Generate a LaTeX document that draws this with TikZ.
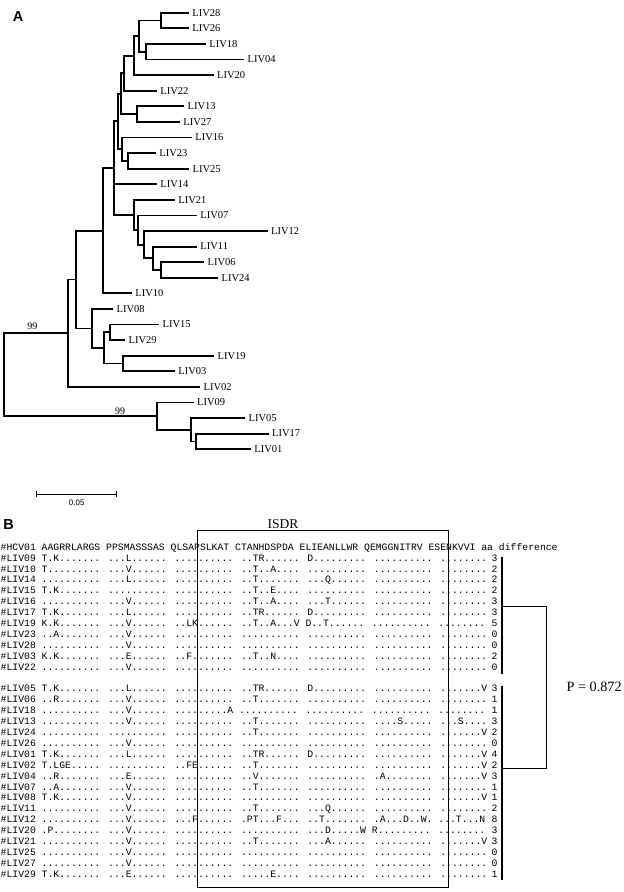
\documentclass[tikz,border=0pt]{standalone}
\usepackage{fontspec}
\setmainfont{Liberation Serif}
\newfontfamily\alnfont{Liberation Mono}
\newfontfamily\lblsans{Liberation Sans}
\tikzset{
  tree/.style={line width=1.8pt, line cap=rect, line join=miter},
  leaflbl/.style={anchor=west, inner sep=0pt, xshift=4.2pt, font=\fontsize{10.5}{12}\selectfont},
  boot/.style={inner sep=0pt, font=\fontsize{10}{12}\selectfont},
  aln/.style={anchor=base west, inner sep=0pt, font=\alnfont\fontsize{9.77}{11}\selectfont},
  diff/.style={anchor=base, inner sep=0pt, font=\alnfont\fontsize{9.77}{11}\selectfont},
  panel/.style={inner sep=0pt, font=\lblsans\bfseries\fontsize{14.5}{16}\selectfont},
  thinline/.style={line width=0.9pt},
  grpbar/.style={line width=2.8pt}
}
\begin{document}
\begin{tikzpicture}[x=1pt,y=-1pt]
\path[fill=white] (0,0) rectangle (624,892);
\useasboundingbox (0,0) rectangle (624,892);

% ---------------- Panel A: tree ----------------
\node[panel] (pA) at (18,17) {A};

\coordinate (root) at (3.7,374.6);
\coordinate (nw) at (67.7,333.2);
\coordinate (nx) at (156.7,416.1);
\coordinate (nr) at (76,279.5);
\coordinate (nq) at (103.3,230.7);
\coordinate (na) at (114.3,168);
\coordinate (nb) at (117.7,121.3);
\coordinate (nc) at (121,93.6);
\coordinate (nd) at (124.3,73.1);
\coordinate (ne) at (134.3,55.6);
\coordinate (nf) at (139,36.1);
\coordinate (ng) at (161,20.5);
\coordinate (nh) at (145.7,51.7);
\coordinate (ni) at (136.7,114);
\coordinate (nj) at (121.7,149.1);
\coordinate (nk) at (127.7,160.8);
\coordinate (nl) at (134.3,214.9);
\coordinate (nm) at (137.7,230);
\coordinate (nn) at (144.3,244.6);
\coordinate (no) at (153.3,258.3);
\coordinate (np) at (161,269.9);
\coordinate (ns) at (91.7,328.4);
\coordinate (nt) at (104.3,347.9);
\coordinate (nu) at (110,332.3);
\coordinate (nv) at (123.3,363.5);
\coordinate (ny) at (190.7,429.7);
\coordinate (nz) at (196,441.4);

\coordinate (t28) at (188,12.7);
\coordinate (t26) at (188,28.3);
\coordinate (t18) at (205,43.9);
\coordinate (t04) at (243.3,59.5);
\coordinate (t20) at (212.7,75.1);
\coordinate (t22) at (156,90.65);
\coordinate (t13) at (183.3,106.2);
\coordinate (t27) at (179,121.8);
\coordinate (t16) at (191,137.4);
\coordinate (t23) at (155,153.0);
\coordinate (t25) at (188.3,168.6);
\coordinate (t14) at (156,184.2);
\coordinate (t21) at (174,199.8);
\coordinate (t07) at (196,215.4);
\coordinate (t12) at (266.7,231.0);
\coordinate (t11) at (196,246.6);
\coordinate (t06) at (203.3,262.1);
\coordinate (t24) at (217.3,277.7);
\coordinate (t10) at (131,293.3);
\coordinate (t08) at (112.3,308.9);
\coordinate (t15) at (158.3,324.5);
\coordinate (t29) at (124.3,340.1);
\coordinate (t19) at (213.3,355.7);
\coordinate (t03) at (174,371.3);
\coordinate (t02) at (199.3,386.9);
\coordinate (t09) at (192.7,402.5);
\coordinate (t05) at (244.3,418.0);
\coordinate (t17) at (267.7,433.6);
\coordinate (t01) at (250,449.2);

\draw[tree] (root) |- (nw);
\draw[tree] (root) |- (nx);
\draw[tree] (nw) |- (nr);
\draw[tree] (nw) |- (t02);
\draw[tree] (nr) |- (nq);
\draw[tree] (nr) |- (ns);
\draw[tree] (nq) |- (na);
\draw[tree] (nq) |- (t10);
\draw[tree] (na) |- (nb);
\draw[tree] (na) |- (t14);
\draw[tree] (na) |- (nl);
\draw[tree] (nb) |- (nc);
\draw[tree] (nb) |- (nj);
\draw[tree] (nc) |- (nd);
\draw[tree] (nc) |- (ni);
\draw[tree] (nd) |- (ne);
\draw[tree] (nd) |- (t22);
\draw[tree] (ne) |- (nf);
\draw[tree] (ne) |- (t20);
\draw[tree] (nf) |- (ng);
\draw[tree] (nf) |- (nh);
\draw[tree] (ng) |- (t28);
\draw[tree] (ng) |- (t26);
\draw[tree] (nh) |- (t18);
\draw[tree] (nh) |- (t04);
\draw[tree] (ni) |- (t13);
\draw[tree] (ni) |- (t27);
\draw[tree] (nj) |- (t16);
\draw[tree] (nj) |- (nk);
\draw[tree] (nk) |- (t23);
\draw[tree] (nk) |- (t25);
\draw[tree] (nl) |- (t21);
\draw[tree] (nl) |- (nm);
\draw[tree] (nm) |- (t07);
\draw[tree] (nm) |- (nn);
\draw[tree] (nn) |- (t12);
\draw[tree] (nn) |- (no);
\draw[tree] (no) |- (t11);
\draw[tree] (no) |- (np);
\draw[tree] (np) |- (t06);
\draw[tree] (np) |- (t24);
\draw[tree] (ns) |- (t08);
\draw[tree] (ns) |- (nt);
\draw[tree] (nt) |- (nu);
\draw[tree] (nt) |- (nv);
\draw[tree] (nu) |- (t15);
\draw[tree] (nu) |- (t29);
\draw[tree] (nv) |- (t19);
\draw[tree] (nv) |- (t03);
\draw[tree] (nx) |- (t09);
\draw[tree] (nx) |- (ny);
\draw[tree] (ny) |- (t05);
\draw[tree] (ny) |- (nz);
\draw[tree] (nz) |- (t17);
\draw[tree] (nz) |- (t01);

\node[leaflbl] (l28) at (t28) {LIV28};
\node[leaflbl] (l26) at (t26) {LIV26};
\node[leaflbl] (l18) at (t18) {LIV18};
\node[leaflbl] (l04) at (t04) {LIV04};
\node[leaflbl] (l20) at (t20) {LIV20};
\node[leaflbl] (l22) at (t22) {LIV22};
\node[leaflbl] (l13) at (t13) {LIV13};
\node[leaflbl] (l27) at (t27) {LIV27};
\node[leaflbl] (l16) at (t16) {LIV16};
\node[leaflbl] (l23) at (t23) {LIV23};
\node[leaflbl] (l25) at (t25) {LIV25};
\node[leaflbl] (l14) at (t14) {LIV14};
\node[leaflbl] (l21) at (t21) {LIV21};
\node[leaflbl] (l07) at (t07) {LIV07};
\node[leaflbl] (l12) at (t12) {LIV12};
\node[leaflbl] (l11) at (t11) {LIV11};
\node[leaflbl] (l06) at (t06) {LIV06};
\node[leaflbl] (l24) at (t24) {LIV24};
\node[leaflbl] (l10) at (t10) {LIV10};
\node[leaflbl] (l08) at (t08) {LIV08};
\node[leaflbl] (l15) at (t15) {LIV15};
\node[leaflbl] (l29) at (t29) {LIV29};
\node[leaflbl] (l19) at (t19) {LIV19};
\node[leaflbl] (l03) at (t03) {LIV03};
\node[leaflbl] (l02) at (t02) {LIV02};
\node[leaflbl] (l09) at (t09) {LIV09};
\node[leaflbl] (l05) at (t05) {LIV05};
\node[leaflbl] (l17) at (t17) {LIV17};
\node[leaflbl] (l01) at (t01) {LIV01};

\node[boot] (bs1) at (32.3,326.5) {99};
\node[boot] (bs2) at (120,411.5) {99};

% scale bar
\coordinate (sb1) at (36,494);
\coordinate (sb2) at (116.7,494);
\draw[thinline] (sb1) -- (sb2);
\draw[thinline] ([yshift=-2.6pt]sb1) -- ([yshift=2.6pt]sb1);
\draw[thinline] ([yshift=-2.6pt]sb2) -- ([yshift=2.6pt]sb2);
\node[inner sep=0pt, font=\lblsans\fontsize{8}{9}\selectfont] (sbl) at (76.7,502.7) {0.05};

% ---------------- Panel B: alignment ----------------
\node[panel] (pB) at (8.5,524.5) {B};
\node[anchor=base, inner sep=0pt, font=\fontsize{13.5}{15}\selectfont] (isdr) at (283,528.8) {ISDR};

\coordinate (bxa) at (197.5,530);
\coordinate (bxb) at (448,887);
\draw[thinline] (bxa) rectangle (bxb);

\node[aln] (r0) at (0.5,550.2) {\#HCV01 AAGRRLARGS PPSMASSSAS QLSAPSLKAT CTANHDSPDA ELIEANLLWR QEMGGNITRV ESENKVVI aa difference};
\node[aln] (r1) at (0.5,561.1) {\#LIV09 T.K....... ...L...... .......... ..TR...... D......... .......... ........};
\node[aln] (r2) at (0.5,572.0) {\#LIV10 T......... ...V...... .......... ..T..A.... .......... .......... ........};
\node[aln] (r3) at (0.5,582.9) {\#LIV14 .......... ...L...... .......... ..T....... ...Q...... .......... ........};
\node[aln] (r4) at (0.5,593.8) {\#LIV15 T.K....... .......... .......... ..T..E.... .......... .......... ........};
\node[aln] (r5) at (0.5,604.7) {\#LIV16 .......... ...V...... .......... ..T..A.... ...T...... .......... ........};
\node[aln] (r6) at (0.5,615.6) {\#LIV17 T.K....... ...L...... .......... ..TR...... D......... .......... ........};
\node[aln] (r7) at (0.5,626.5) {\#LIV19 K.K....... ...V...... ..LK...... ..T..A...V D..T...... .......... ........};
\node[aln] (r8) at (0.5,637.4) {\#LIV23 ..A....... ...V...... .......... .......... .......... .......... ........};
\node[aln] (r9) at (0.5,648.3) {\#LIV28 .......... ...V...... .......... .......... .......... .......... ........};
\node[aln] (r10) at (0.5,659.2) {\#LIV03 K.K....... ...E...... ..F....... ..T..N.... .......... .......... ........};
\node[aln] (r11) at (0.5,670.1) {\#LIV22 .......... ...V...... .......... .......... .......... .......... ........};
\node[aln] (r13) at (0.5,691.9) {\#LIV05 T.K....... ...L...... .......... ..TR...... D......... .......... .......V};
\node[aln] (r14) at (0.5,702.8) {\#LIV06 ..R....... ...V...... .......... ..T....... .......... .......... ........};
\node[aln] (r15) at (0.5,713.7) {\#LIV18 .......... ...V...... .........A .......... .......... .......... ........};
\node[aln] (r16) at (0.5,724.6) {\#LIV13 .......... ...V...... .......... ..T....... .......... ....S..... ...S....};
\node[aln] (r17) at (0.5,735.5) {\#LIV24 .......... .......... .......... ..T....... .......... .......... .......V};
\node[aln] (r18) at (0.5,746.4) {\#LIV26 .......... ...V...... .......... .......... .......... .......... ........};
\node[aln] (r19) at (0.5,757.3) {\#LIV01 T.K....... ...L...... .......... ..TR...... D......... .......... .......V};
\node[aln] (r20) at (0.5,768.2) {\#LIV02 T.LGE..... .......... ..FE...... ..T....... .......... .......... .......V};
\node[aln] (r21) at (0.5,779.1) {\#LIV04 ..R....... ...E...... .......... ..V....... .......... .A........ .......V};
\node[aln] (r22) at (0.5,790.0) {\#LIV07 ..A....... ...V...... .......... ..T....... .......... .......... ........};
\node[aln] (r23) at (0.5,800.9) {\#LIV08 T.K....... ...V...... .......... .......... .......... .......... .......V};
\node[aln] (r24) at (0.5,811.8) {\#LIV11 .......... ...V...... .......... ..T....... ...Q...... .......... ........};
\node[aln] (r25) at (0.5,822.7) {\#LIV12 .......... ...V...... ...F...... .PT...F... ..T....... .A...D..W. ...T...N};
\node[aln] (r26) at (0.5,833.6) {\#LIV20 .P........ ...V...... .......... .......... ...D.....W R......... ........};
\node[aln] (r27) at (0.5,844.5) {\#LIV21 .......... ...V...... .......... ..T....... ...A...... .......... .......V};
\node[aln] (r28) at (0.5,855.4) {\#LIV25 .......... ...V...... .......... .......... .......... .......... ........};
\node[aln] (r29) at (0.5,866.3) {\#LIV27 .......... ...V...... .......... .......... .......... .......... ........};
\node[aln] (r30) at (0.5,877.2) {\#LIV29 T.K....... ...E...... .......... .....E.... .......... .......... ........};

% aa differences
\node[diff] (d1) at (494.5,561.1) {3};
\node[diff] (d2) at (494.5,572.0) {2};
\node[diff] (d3) at (494.5,582.9) {2};
\node[diff] (d4) at (494.5,593.8) {2};
\node[diff] (d5) at (494.5,604.7) {3};
\node[diff] (d6) at (494.5,615.6) {3};
\node[diff] (d7) at (494.5,626.5) {5};
\node[diff] (d8) at (494.5,637.4) {0};
\node[diff] (d9) at (494.5,648.3) {0};
\node[diff] (d10) at (494.5,659.2) {2};
\node[diff] (d11) at (494.5,670.1) {0};
\node[diff] (d13) at (494.5,691.9) {3};
\node[diff] (d14) at (494.5,702.8) {1};
\node[diff] (d15) at (494.5,713.7) {1};
\node[diff] (d16) at (494.5,724.6) {3};
\node[diff] (d17) at (494.5,735.5) {2};
\node[diff] (d18) at (494.5,746.4) {0};
\node[diff] (d19) at (494.5,757.3) {4};
\node[diff] (d20) at (494.5,768.2) {2};
\node[diff] (d21) at (494.5,779.1) {3};
\node[diff] (d22) at (494.5,790.0) {1};
\node[diff] (d23) at (494.5,800.9) {1};
\node[diff] (d24) at (494.5,811.8) {2};
\node[diff] (d25) at (494.5,822.7) {8};
\node[diff] (d26) at (494.5,833.6) {3};
\node[diff] (d27) at (494.5,844.5) {3};
\node[diff] (d28) at (494.5,855.4) {0};
\node[diff] (d29) at (494.5,866.3) {0};
\node[diff] (d30) at (494.5,877.2) {1};

% group bars and bracket
\coordinate (g1a) at (502,557);
\coordinate (g1b) at (502,674);
\coordinate (g2a) at (502,686);
\coordinate (g2b) at (502,880);
\draw[grpbar] (g1a) -- (g1b);
\draw[grpbar] (g2a) -- (g2b);
\coordinate (bt) at (502,606.7);
\coordinate (bb) at (502,768.3);
\coordinate (bc) at (546.7,606.7);
\draw[thinline] (bt) -- (bc) |- (bb);
\node[inner sep=0pt, font=\fontsize{14.2}{16}\selectfont] (pval) at (594.2,686.7) {P = 0.872};
\end{tikzpicture}
\end{document}
